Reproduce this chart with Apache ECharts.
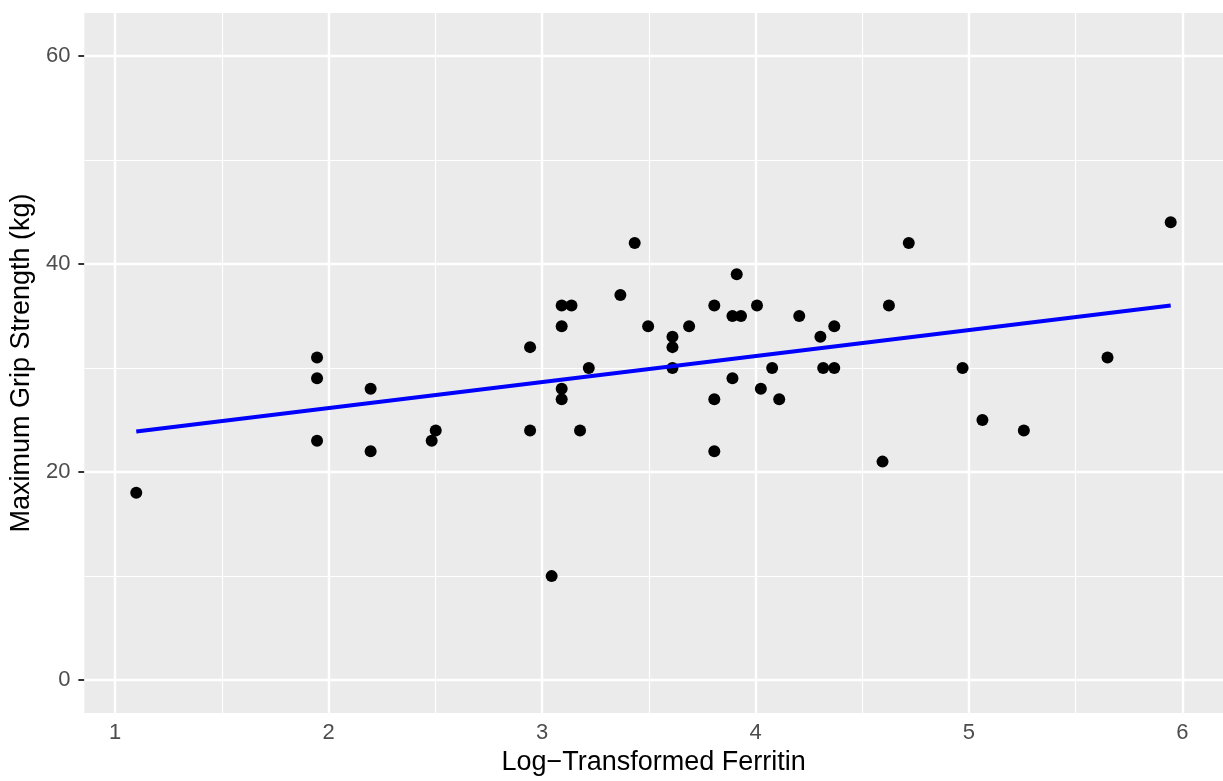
<!DOCTYPE html>
<html>
<head>
<meta charset="utf-8">
<script src="https://cdn.jsdelivr.net/npm/echarts@6/dist/echarts.min.js"></script>
<style>
  html, body { margin: 0; padding: 0; background: #fff; }
  #chart { width: 1223px; height: 781px; }
</style>
</head>
<body>
<div id="chart"></div>
<script>
// log ferritin (x) and grip strength (y)
const ferritin = [
  1.099, 1.946, 1.946, 1.946, 2.197, 2.197, 2.483, 2.502, 2.944, 2.944,
  3.045, 3.092, 3.092, 3.092, 3.092, 3.138, 3.178, 3.219, 3.367, 3.434,
  3.497, 3.611, 3.611, 3.611, 3.689, 3.807, 3.807, 3.807, 3.892, 3.892,
  3.912, 3.932, 4.007, 4.025, 4.078, 4.111, 4.205, 4.304, 4.317, 4.369,
  4.369, 4.595, 4.625, 4.718, 4.970, 5.063, 5.257, 5.649, 5.945
];
const grip = [
  18, 31, 29, 23, 28, 22, 23, 24, 32, 24,
  10, 36, 34, 28, 27, 36, 24, 30, 37, 42,
  34, 33, 32, 30, 34, 36, 27, 22, 35, 29,
  39, 35, 36, 28, 30, 27, 35, 33, 30, 34,
  30, 21, 36, 42, 30, 25, 24, 31, 44
];

const xTicks = [1, 2, 3, 4, 5, 6];
const xMinor = [1.5, 2.5, 3.5, 4.5, 5.5];
const yTicks = [0, 20, 40, 60];
const yMinor = [10, 30, 50];

// least squares fit, like geom_smooth(method = "lm")
const n = ferritin.length;
const mx = ferritin.reduce((a, b) => a + b, 0) / n;
const my = grip.reduce((a, b) => a + b, 0) / n;
let sxy = 0, sxx = 0;
for (let i = 0; i < n; i++) {
  sxy += (ferritin[i] - mx) * (grip[i] - my);
  sxx += (ferritin[i] - mx) * (ferritin[i] - mx);
}
const slope = sxy / sxx;
const icept = my - slope * mx;
const xLo = Math.min(...ferritin), xHi = Math.max(...ferritin);
const fitLine = [[xLo, icept + slope * xLo], [xHi, icept + slope * xHi]];

const points = ferritin.map((x, i) => [x, grip[i]]);

// panel grid lines, minor first so the major ones sit on top
const gridLines = [];
xMinor.forEach(v => gridLines.push({ xAxis: v, lineStyle: { width: 1.2 } }));
yMinor.forEach(v => gridLines.push({ yAxis: v, lineStyle: { width: 1.2 } }));
xTicks.forEach(v => gridLines.push({ xAxis: v, lineStyle: { width: 2.4 } }));
yTicks.forEach(v => gridLines.push({ yAxis: v, lineStyle: { width: 2.4 } }));

const font = 'Liberation Sans, Arial, sans-serif';

let chart = echarts.init(document.getElementById('chart'));
let option = {
  animation: false,
  backgroundColor: '#ffffff',
  grid: {
    left: 84, top: 13, width: 1142, height: 702,
    show: true, backgroundColor: '#EBEBEB', borderWidth: 0
  },
  xAxis: {
    type: 'value',
    min: 0.856, max: 6.19,
    name: 'Log\u2212Transformed Ferritin',
    nameLocation: 'middle',
    nameGap: 36,
    nameTextStyle: { fontFamily: font, fontSize: 27, color: '#000' },
    axisLine: { show: false },
    splitLine: { show: false },
    axisTick: { show: true, customValues: xTicks, length: 5, lineStyle: { color: '#333', width: 2 } },
    axisLabel: { customValues: xTicks, margin: 9, fontFamily: font, fontSize: 22, color: '#4D4D4D' }
  },
  yAxis: {
    type: 'value',
    min: -3.15, max: 64.1,
    name: 'Maximum Grip Strength (kg)',
    nameLocation: 'middle',
    nameGap: 42,
    nameTextStyle: { fontFamily: font, fontSize: 27, color: '#000' },
    axisLine: { show: false },
    splitLine: { show: false },
    axisTick: { show: true, customValues: yTicks, length: 6, lineStyle: { color: '#333', width: 2 } },
    axisLabel: { customValues: yTicks, margin: 14, fontFamily: font, fontSize: 22, color: '#4D4D4D' }
  },
  series: [
    {
      type: 'scatter',
      data: [],
      z: 1,
      silent: true,
      markLine: {
        z: 1,
        silent: true,
        symbol: 'none',
        label: { show: false },
        lineStyle: { color: '#ffffff', type: 'solid' },
        data: gridLines
      }
    },
    {
      type: 'scatter',
      data: points,
      symbol: 'circle',
      symbolSize: 12,
      itemStyle: { color: '#000000', opacity: 1 },
      z: 6
    },
    {
      type: 'line',
      data: fitLine,
      symbol: 'none',
      lineStyle: { color: '#0000FF', width: 4 },
      z: 7
    }
  ]
};
option && chart.setOption(option);
</script>
</body>
</html>
